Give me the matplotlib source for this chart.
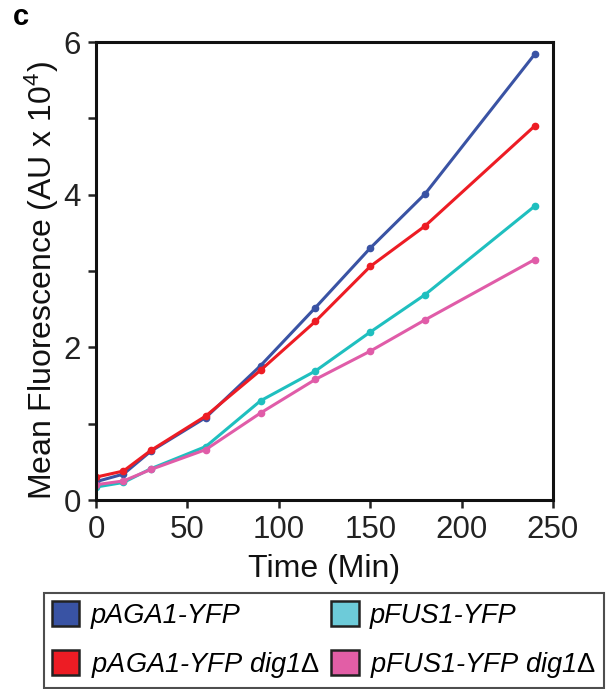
import matplotlib
matplotlib.use("Agg")
import matplotlib.pyplot as plt
from matplotlib.patches import Patch

plt.rcParams['font.family'] = ['Liberation Sans', 'DejaVu Sans']
plt.rcParams['mathtext.fontset'] = 'custom'
plt.rcParams['mathtext.rm'] = 'Liberation Sans'
plt.rcParams['mathtext.it'] = 'Liberation Sans:italic'
plt.rcParams['mathtext.default'] = 'regular'

time_min = [0, 15, 30, 60, 90, 120, 150, 180, 240]
series_names = ["pAGA1-YFP", "pAGA1-YFP dig1Δ", "pFUS1-YFP", "pFUS1-YFP dig1Δ"]
aga1 = [0.24, 0.34, 0.64, 1.08, 1.76, 2.52, 3.30, 4.01, 5.84]
aga1_dig1 = [0.30, 0.38, 0.65, 1.10, 1.70, 2.34, 3.06, 3.59, 4.90]
fus1 = [0.17, 0.23, 0.41, 0.70, 1.30, 1.69, 2.20, 2.69, 3.85]
fus1_dig1 = [0.20, 0.25, 0.40, 0.66, 1.14, 1.58, 1.95, 2.36, 3.15]
line_colors = ["#3a53a4", "#ed1c24", "#1fbfbf", "#e05ca8"]
legend_colors = ["#3953a4", "#ed1c24", "#6dcbd9", "#e25ea6"]
x_ticks = [0, 50, 100, 150, 200, 250]
y_ticks = [0, 2, 4, 6]

fig = plt.figure(figsize=(6.08, 6.89), dpi=100)
ax = fig.add_axes([0.158, 0.2743, 0.7515, 0.6647])

for vals, c in zip([aga1, aga1_dig1, fus1, fus1_dig1], line_colors):
    ax.plot(time_min, vals, color=c, lw=2.2, marker='o', ms=4.5, mec=c, mfc=c)

ax.set_xlim(0, 250)
ax.set_ylim(0, 6)
ax.set_xticks(x_ticks)
ax.set_yticks(y_ticks)
ax.set_yticks([1, 3, 5], minor=True)
ax.tick_params(axis='both', which='major', labelsize=22.5, width=1.8, length=6,
               direction='out', pad=5, colors='#222222')
ax.tick_params(axis='y', which='minor', width=1.8, length=6, direction='out', colors='#222222')
for s in ax.spines.values():
    s.set_linewidth(2.2)
    s.set_color('#111111')

ax.set_xlabel("Time (Min)", fontsize=23, labelpad=6, color='#111111')
ax.set_ylabel("Mean Fluorescence (AU x 10$^{4}$)", fontsize=23, color='#111111')
ax.yaxis.set_label_coords(-0.077, 0.48)

fig.text(0.021, 0.975, "c", fontsize=21, fontweight='bold', va='center', ha='left')

labels = [n.replace("Δ", r"$\mathrm{\Delta}$") for n in series_names]
handles = [Patch(facecolor=c, edgecolor='#222222', linewidth=1.8) for c in legend_colors]
leg = fig.legend(handles, labels, ncol=2, loc='upper left',
                 bbox_to_anchor=(44 / 608, 1 - 593 / 689),
                 fancybox=False, frameon=True, prop={'size': 19.6, 'style': 'italic'},
                 handlelength=1.0, handleheight=1.0, handletextpad=0.42,
                 columnspacing=0.42, borderpad=0.3, labelspacing=0.78, borderaxespad=0)
leg.get_frame().set_edgecolor('#222222')
leg.get_frame().set_linewidth(1.5)

fig.savefig("out.png", dpi=100)
